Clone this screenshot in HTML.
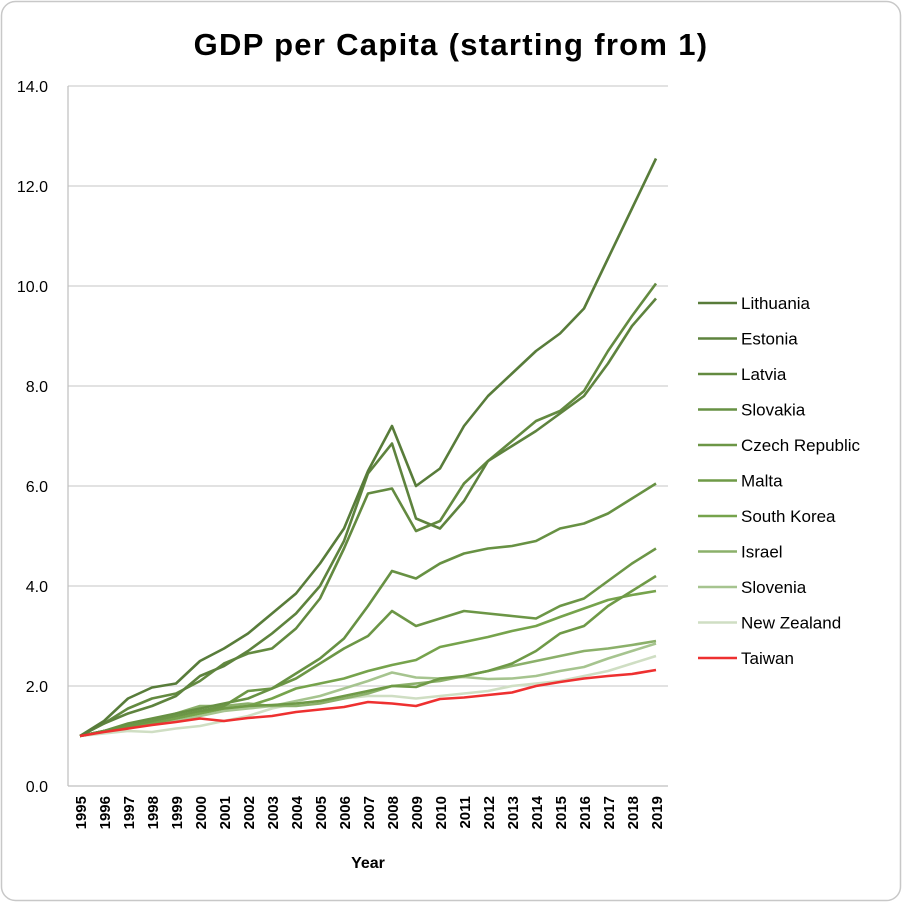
<!DOCTYPE html>
<html><head><meta charset="utf-8"><style>
body{margin:0;background:#fff;}
svg{display:block;font-family:"Liberation Sans",sans-serif;}
</style></head><body>
<svg id="c" width="902" height="902" xmlns="http://www.w3.org/2000/svg">
<rect x="1.5" y="1.5" width="899" height="899" rx="14" fill="#fff" stroke="#c8c8c8" stroke-width="1.5"/>
<text x="451" y="55" text-anchor="middle" font-size="31" font-weight="bold" letter-spacing="1.3" fill="#000">GDP per Capita (starting from 1)</text>
<g id="g"></g>
<text x="368" y="868" text-anchor="middle" font-size="16" font-weight="bold" fill="#000">Year</text>
</svg>
<script>
var g=document.getElementById('g'),s='';
function Y(v){return 786-50*v;}
for(var i=0;i<=7;i++){var y=Y(i*2);
 if(i>0)s+='<line x1="68" x2="668" y1="'+y+'" y2="'+y+'" stroke="#d0d0d0" stroke-width="1.2"/>';
 s+='<text x="48" y="'+(y+6)+'" text-anchor="end" font-size="16" fill="#000">'+(i*2).toFixed(1)+'</text>';}
s+='<line x1="68" x2="668" y1="786" y2="786" stroke="#bfbfbf" stroke-width="1.2"/>';
s+='<line x1="68" x2="68" y1="86" y2="786" stroke="#bfbfbf" stroke-width="1.2"/>';
for(var k=0;k<25;k++){var x=80+24*k;
 s+='<text transform="translate('+(x+6)+',796) rotate(-90)" text-anchor="end" font-size="15" font-weight="bold" fill="#000">'+(1995+k)+'</text>';}
var D=[
["Lithuania","#587c3a",[1,1.3,1.75,1.97,2.05,2.5,2.75,3.05,3.45,3.85,4.45,5.15,6.3,7.2,6.0,6.35,7.2,7.8,8.25,8.7,9.05,9.55,10.55,11.55,12.55]],
["Estonia","#5e833e",[1,1.25,1.45,1.6,1.8,2.2,2.4,2.7,3.05,3.45,4.0,4.9,6.25,6.85,5.35,5.15,5.7,6.5,6.8,7.1,7.45,7.8,8.45,9.2,9.75]],
["Latvia","#638a40",[1,1.25,1.55,1.75,1.85,2.1,2.45,2.65,2.75,3.15,3.75,4.75,5.85,5.95,5.1,5.3,6.05,6.5,6.9,7.3,7.5,7.9,8.7,9.4,10.05]],
["Slovakia","#679143",[1,1.1,1.25,1.35,1.45,1.55,1.65,1.75,1.95,2.25,2.55,2.95,3.6,4.3,4.15,4.45,4.65,4.75,4.8,4.9,5.15,5.25,5.45,5.75,6.05]],
["Czech Republic","#6c9646",[1,1.1,1.2,1.3,1.4,1.5,1.6,1.9,1.95,2.15,2.45,2.75,3.0,3.5,3.2,3.35,3.5,3.45,3.4,3.35,3.6,3.75,4.1,4.45,4.75]],
["Malta","#6f9a47",[1,1.1,1.2,1.3,1.4,1.5,1.55,1.6,1.62,1.65,1.7,1.8,1.9,2.0,1.98,2.15,2.2,2.3,2.45,2.7,3.05,3.2,3.6,3.9,4.2]],
["South Korea","#76a34c",[1,1.1,1.2,1.25,1.35,1.45,1.55,1.6,1.75,1.95,2.05,2.15,2.3,2.42,2.52,2.78,2.88,2.98,3.1,3.2,3.38,3.55,3.72,3.82,3.9]],
["Israel","#8bb06a",[1,1.1,1.2,1.3,1.45,1.6,1.6,1.65,1.6,1.6,1.65,1.75,1.85,2.0,2.05,2.1,2.2,2.3,2.4,2.5,2.6,2.7,2.75,2.82,2.9]],
["Slovenia","#a6c48f",[1,1.1,1.15,1.25,1.3,1.4,1.5,1.55,1.6,1.7,1.8,1.95,2.1,2.27,2.17,2.15,2.18,2.14,2.15,2.2,2.3,2.38,2.55,2.7,2.85]],
["New Zealand","#cfdec3",[1,1.05,1.1,1.08,1.15,1.2,1.3,1.4,1.55,1.65,1.7,1.75,1.8,1.8,1.75,1.8,1.85,1.9,2.0,2.05,2.1,2.2,2.3,2.45,2.6]],
["Taiwan","#ee3030",[1,1.08,1.15,1.22,1.28,1.35,1.3,1.36,1.4,1.48,1.53,1.58,1.68,1.65,1.6,1.74,1.77,1.82,1.87,2.0,2.08,2.15,2.2,2.24,2.32]]];
for(var j=D.length-2;j>=0;j--){draw(D[j]);}
draw(D[D.length-1]);
function draw(d){var p=d[2].map(function(v,k){return (80+24*k)+','+Y(v).toFixed(1)}).join(' ');
 s+='<polyline points="'+p+'" fill="none" stroke="'+d[1]+'" stroke-width="2.6" stroke-linejoin="round"/>';}
for(var j=0;j<D.length;j++){var y=303+35.5*j;
 s+='<line x1="698" x2="737" y1="'+y+'" y2="'+y+'" stroke="'+D[j][1]+'" stroke-width="2.6"/>';
 s+='<text x="741" y="'+(y+6)+'" font-size="17" fill="#000">'+D[j][0]+'</text>';}
g.innerHTML=s;
</script>
</body></html>
